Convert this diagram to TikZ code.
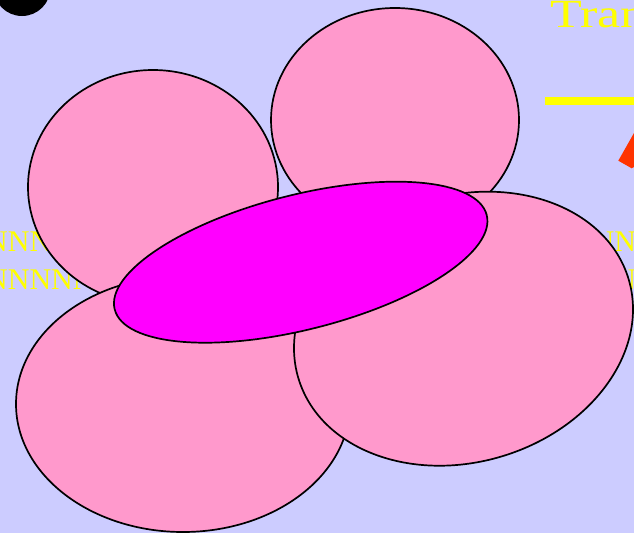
\documentclass[tikz,border=0pt]{standalone}
\usepackage{fontspec}
\setmainfont{Liberation Serif}
\definecolor{bgcol}{HTML}{CCCCFF}
\definecolor{pinkcol}{HTML}{FF99CC}
\definecolor{magcol}{HTML}{FF00FF}
\definecolor{yelcol}{HTML}{FFFF00}
\definecolor{redcol}{HTML}{FF3300}
\begin{document}
\begin{tikzpicture}[x=1pt,y=-1pt,
  blob/.style={draw=black, line width=1.7pt, fill=pinkcol},
  magblob/.style={draw=black, line width=1.7pt, fill=magcol},
  rowtext/.style={text=yelcol, inner sep=0pt, anchor=base west, font=\fontsize{30}{30}\selectfont},
  titletext/.style={text=yelcol, inner sep=0pt, anchor=base west, xscale=1.3, font=\fontsize{40}{40}\selectfont}]
\useasboundingbox (0,0) rectangle (634,533);
\clip (0,0) rectangle (634,533);
\fill[bgcol] (0,0) rectangle (634,533);
% black dot
\fill[black] (22,-12.5) circle (28.5pt);
% title and rule
\node[titletext] (title) at (550,27) {Tran};
\coordinate (ruleA) at (545,101);
\coordinate (ruleB) at (640,101);
\draw[yelcol, line width=8pt] (ruleA) -- (ruleB);
% red arrow tip
\fill[redcol] (618.3,160.7) -- (634,133) -- (634,167) -- (631.7,168.3) -- cycle;
% rows of text behind the shapes
\node[rowtext] (row1) at (-14,251) {NNNNNNNNNNNNNNNNNNNNNNNNNNNNNNN};
\node[rowtext] (row2) at (-14,289) {NNNNNNNNNNNNNNNNNNNNNNNNNNNNNNN};
% pink ellipses
\draw[blob] (153,187) ellipse (125pt and 117pt);
\draw[blob] (395,120) ellipse (124pt and 112pt);
\draw[blob] (183,404) ellipse (167pt and 128pt);
\draw[blob, rotate around={16.8:(463.5,328.7)}] (463.5,328.7) ellipse (172.4pt and 133.3pt);
% magenta ellipse
\draw[magblob, rotate around={14.24:(300.7,262.2)}] (300.7,262.2) ellipse (191.9pt and 67.3pt);
\end{tikzpicture}
\end{document}
